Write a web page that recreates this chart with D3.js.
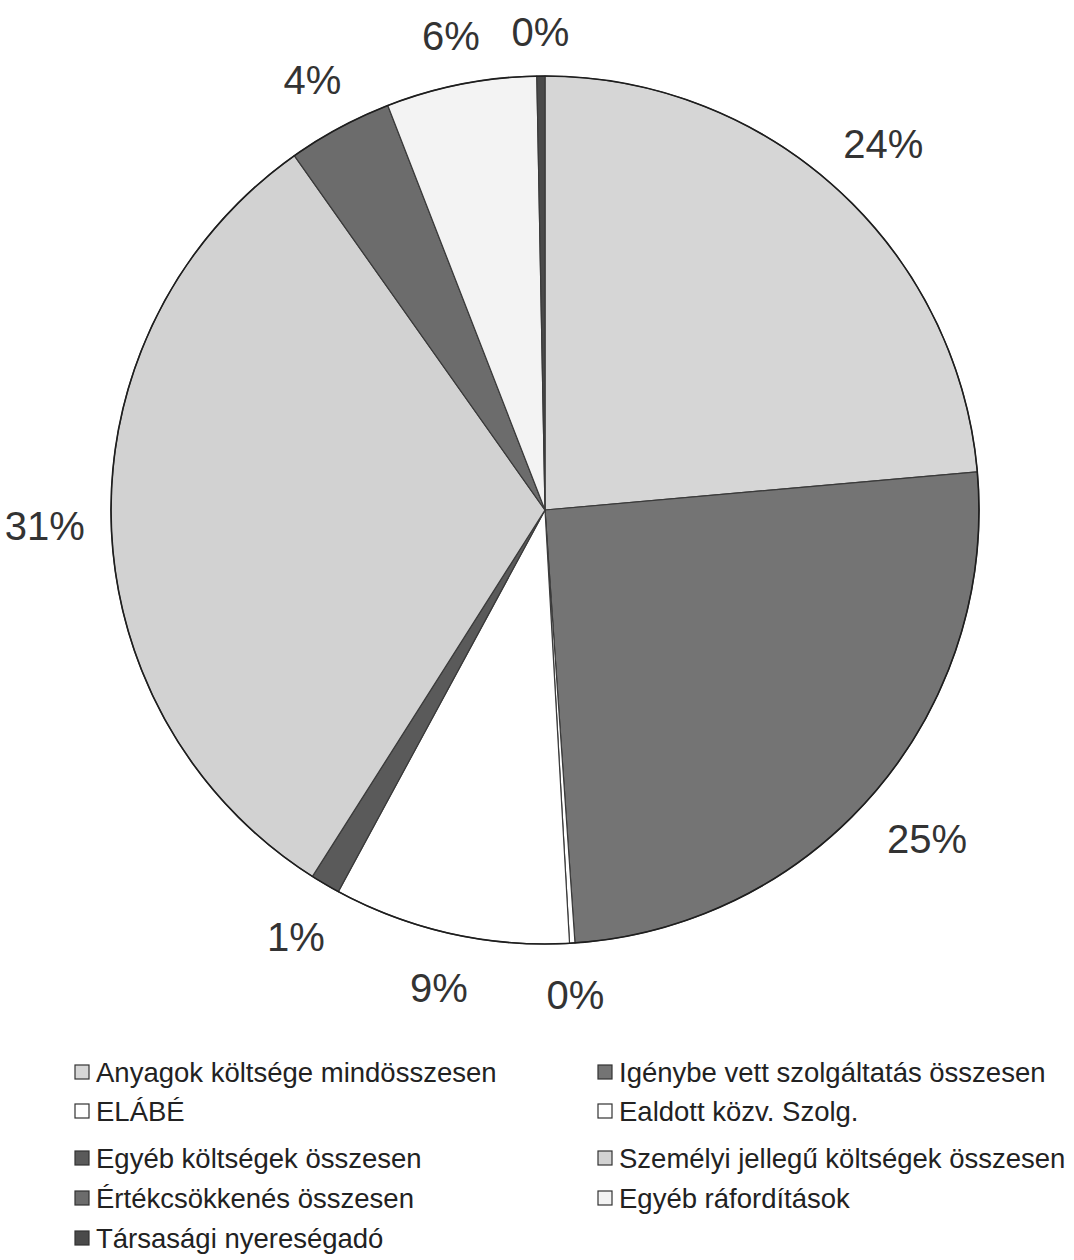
<!DOCTYPE html>
<html>
<head>
<meta charset="utf-8">
<script src="https://cdn.jsdelivr.net/npm/d3@7"></script>
<style>
  html, body { margin: 0; padding: 0; background: #fff; }
  svg { display: block; }
</style>
</head>
<body>
<svg id="chart" width="1074" height="1260"></svg>
<script>
// ---- data ----
const categories = [
  "Anyagok költsége mindösszesen",
  "Igénybe vett szolgáltatás összesen",
  "ELÁBÉ",
  "Ealdott közv. Szolg.",
  "Egyéb költségek összesen",
  "Személyi jellegű költségek összesen",
  "Értékcsökkenés összesen",
  "Egyéb ráfordítások",
  "Társasági nyereségadó"
];
const values = [23.6, 25.3, 0.2, 8.8, 1.1, 31.2, 3.9, 5.6, 0.3];
const colors = ["#d6d6d6", "#747474", "#ffffff", "#ffffff", "#5a5a5a", "#d2d2d2", "#6c6c6c", "#f3f3f3", "#4a4a4a"];

// ---- layout ----
const svg = d3.select("#chart");
const cx = 545, cy = 510, r = 434;

const pie = d3.pie().value(d => d).sort(null).startAngle(0).endAngle(2 * Math.PI);
const arcs = pie(values);
const arc = d3.arc().innerRadius(0).outerRadius(r);
const total = d3.sum(values);

const g = svg.append("g").attr("transform", `translate(${cx},${cy})`);

g.selectAll("path.slice")
  .data(arcs)
  .enter().append("path")
  .attr("class", "slice")
  .attr("d", arc)
  .attr("fill", (d, i) => colors[i])
  .attr("stroke", "#3a3a3a")
  .attr("stroke-width", 1.2)
  .attr("stroke-linejoin", "round");

g.append("circle")
  .attr("r", r)
  .attr("fill", "none")
  .attr("stroke", "#1e1e1e")
  .attr("stroke-width", 1.6);

// ---- percentage labels ----
const labelSize = 40;
const gap = 30;
const halfW = t => t.length === 3 ? 36 : 26;
const halfH = 17;
g.selectAll("text.pct")
  .data(arcs)
  .enter().append("text")
  .attr("class", "pct")
  .each(function(d, i) {
    const t = Math.round(d.value / total * 100) + "%";
    const a = (d.startAngle + d.endAngle) / 2;
    const s = Math.sin(a), c = -Math.cos(a);
    const rr = r + gap + Math.abs(s) * halfW(t) + Math.abs(c) * halfH;
    d3.select(this)
      .attr("x", s * rr)
      .attr("y", c * rr + 3)
      .attr("text-anchor", "middle")
      .attr("dominant-baseline", "central")
      .attr("font-family", "Liberation Sans, Arial, sans-serif")
      .attr("font-size", labelSize)
      .attr("fill", "#333")
      .text(t);
  });

// ---- legend ----
const legendCols = [75, 598];
const legendRows = [1072, 1111, 1158, 1198, 1238];
const lg = svg.append("g");
categories.forEach((name, i) => {
  const col = i % 2, row = Math.floor(i / 2);
  const x = legendCols[col], y = legendRows[row];
  lg.append("rect")
    .attr("x", x).attr("y", y - 7)
    .attr("width", 14).attr("height", 14)
    .attr("fill", colors[i])
    .attr("stroke", "#333").attr("stroke-width", 1.2);
  lg.append("text")
    .attr("x", x + 21).attr("y", y)
    .attr("dominant-baseline", "central")
    .attr("font-family", "Liberation Sans, Arial, sans-serif")
    .attr("font-size", 27.5)
    .attr("fill", "#222")
    .text(name);
});
</script>
</body>
</html>
